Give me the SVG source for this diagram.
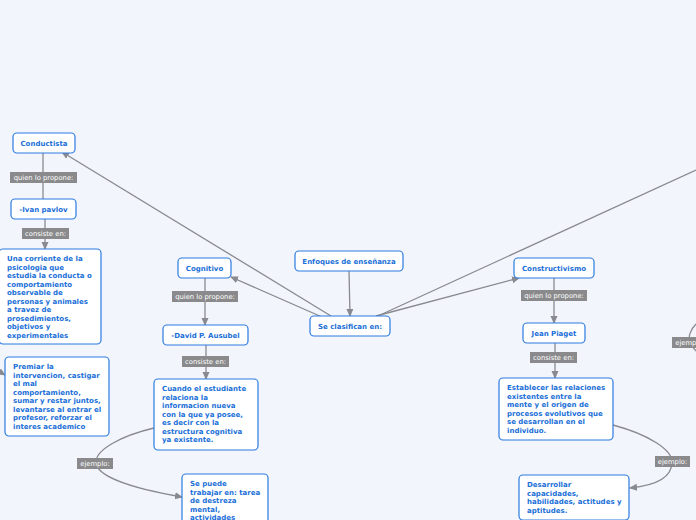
<svg xmlns="http://www.w3.org/2000/svg" width="696" height="520" viewBox="0 0 696 520">
<defs>
<marker id="ar" markerWidth="8" markerHeight="8" refX="7" refY="4" orient="auto" markerUnits="userSpaceOnUse"><path d="M0,0.5 L8,4 L0,7.5 Z" fill="#888a90"/></marker>
<style>
.n rect{fill:#fff;stroke:#2a7be0;stroke-width:1.2}
.n text{font-family:"DejaVu Sans",Verdana,sans-serif;font-weight:bold;font-size:7px;fill:#1a6fd8}
.c{text-anchor:middle}
.l rect{fill:#8a8a8c}
.l text{font-family:"DejaVu Sans",Verdana,sans-serif;font-size:6.8px;fill:#fff;text-anchor:middle}
.e path,.e line{stroke:#888a90;stroke-width:1.3;fill:none}
</style>
</defs>
<rect width="696" height="520" fill="#f3f5fd"/>
<g id="connectors" class="e">
<line x1="331" y1="316" x2="62" y2="152" marker-end="url(#ar)"/>
<line x1="322" y1="317" x2="231" y2="277" marker-end="url(#ar)"/>
<line x1="349" y1="271" x2="350" y2="316" marker-end="url(#ar)"/>
<line x1="376" y1="316" x2="519" y2="278" marker-end="url(#ar)"/>
<line x1="378" y1="316" x2="696" y2="170"/>
<line x1="43" y1="153" x2="43" y2="199"/>
<line x1="45" y1="219" x2="45" y2="249" marker-end="url(#ar)"/>
<path d="M0,372 L5,375" marker-end="url(#ar)"/>
<line x1="205" y1="278" x2="205" y2="325" marker-end="url(#ar)"/>
<line x1="206" y1="345" x2="206" y2="379" marker-end="url(#ar)"/>
<path d="M154,428 C120,436 96,450 96,462 C96,476 130,488 182,497" marker-end="url(#ar)"/>
<line x1="554" y1="278" x2="554" y2="323" marker-end="url(#ar)"/>
<line x1="555" y1="343" x2="555" y2="378" marker-end="url(#ar)"/>
<path d="M613,425 C650,435 672,450 672,462 C672,476 660,485 630,488" marker-end="url(#ar)"/>
<path d="M696,324 C690,330 688,337 690,342 C692,346 694,349 696,351"/>
</g>
<g id="lbl1" class="l"><rect x="10" y="172" width="67" height="11"/><text x="43.5" y="180">quien lo propone:</text></g>
<g id="lbl2" class="l"><rect x="22" y="228" width="47" height="11"/><text x="45.5" y="236">consiste en:</text></g>
<g id="lbl3" class="l"><rect x="172" y="291" width="66" height="11"/><text x="205" y="299">quien lo propone:</text></g>
<g id="lbl4" class="l"><rect x="182" y="356" width="47" height="11"/><text x="205.5" y="364">consiste en:</text></g>
<g id="lbl5" class="l"><rect x="77" y="458" width="36" height="11"/><text x="95" y="466">ejemplo:</text></g>
<g id="lbl6" class="l"><rect x="521" y="290" width="66" height="11"/><text x="554" y="298">quien lo propone:</text></g>
<g id="lbl7" class="l"><rect x="530" y="352" width="47" height="11"/><text x="553.5" y="360">consiste en:</text></g>
<g id="lbl8" class="l"><rect x="655" y="456" width="35" height="11"/><text x="672.5" y="464">ejemplo:</text></g>
<g id="lbl9" class="l"><rect x="672" y="337" width="36" height="11"/><text x="690" y="345">ejemplo:</text></g>
<g id="conductista" class="n"><rect x="13" y="133" width="62" height="20" rx="4"/><text class="c" x="44" y="145.5">Conductista</text></g>
<g id="pavlov" class="n"><rect x="11" y="199" width="65" height="20" rx="4"/><text class="c" x="43.5" y="211.5">-Ivan pavlov</text></g>
<g id="corriente" class="n"><rect x="-1" y="249" width="102" height="95" rx="4"/><text x="7" y="261"><tspan x="7">Una corriente de la</tspan><tspan x="7" dy="8.5">psicologia que</tspan><tspan x="7" dy="8.5">estudia la conducta o</tspan><tspan x="7" dy="8.5">comportamiento</tspan><tspan x="7" dy="8.5">observable de</tspan><tspan x="7" dy="8.5">personas y animales</tspan><tspan x="7" dy="8.5">a travez de</tspan><tspan x="7" dy="8.5">prosedimientos,</tspan><tspan x="7" dy="8.5">objetivos y</tspan><tspan x="7" dy="8.5">experimentales</tspan></text></g>
<g id="premiar" class="n"><rect x="5" y="357" width="104" height="79" rx="4"/><text x="13" y="369"><tspan x="13">Premiar la</tspan><tspan x="13" dy="8.5">intervencion, castigar</tspan><tspan x="13" dy="8.5">el mal</tspan><tspan x="13" dy="8.5">comportamiento,</tspan><tspan x="13" dy="8.5">sumar y restar juntos,</tspan><tspan x="13" dy="8.5">levantarse al entrar el</tspan><tspan x="13" dy="8.5">profesor, reforzar el</tspan><tspan x="13" dy="8.5">interes academico</tspan></text></g>
<g id="cognitivo" class="n"><rect x="178" y="258" width="53" height="20" rx="4"/><text class="c" x="204.5" y="270.5">Cognitivo</text></g>
<g id="ausubel" class="n"><rect x="163" y="325" width="85" height="20" rx="4"/><text class="c" x="205.5" y="337.5">-David P. Ausubel</text></g>
<g id="cuando" class="n"><rect x="154" y="379" width="104" height="71" rx="4"/><text x="162" y="391"><tspan x="162">Cuando el estudiante</tspan><tspan x="162" dy="8.5">relaciona la</tspan><tspan x="162" dy="8.5">informacion nueva</tspan><tspan x="162" dy="8.5">con la que ya posee,</tspan><tspan x="162" dy="8.5">es decir con la</tspan><tspan x="162" dy="8.5">estructura cognitiva</tspan><tspan x="162" dy="8.5">ya existente.</tspan></text></g>
<g id="sepuede" class="n"><rect x="182" y="474" width="86" height="60" rx="4"/><text x="190" y="486"><tspan x="190">Se puede</tspan><tspan x="190" dy="8.5">trabajar en: tarea</tspan><tspan x="190" dy="8.5">de destreza</tspan><tspan x="190" dy="8.5">mental,</tspan><tspan x="190" dy="8.5">actividades</tspan></text></g>
<g id="enfoques" class="n"><rect x="295" y="251" width="108" height="20" rx="4"/><text class="c" x="349" y="263.5">Enfoques de enseñanza</text></g>
<g id="clasifican" class="n"><rect x="310" y="316" width="80" height="20" rx="4"/><text class="c" x="350" y="328.5">Se clasifican en:</text></g>
<g id="constructivismo" class="n"><rect x="514" y="258" width="80" height="20" rx="4"/><text class="c" x="554" y="270.5">Constructivismo</text></g>
<g id="piaget" class="n"><rect x="523" y="323" width="62" height="20" rx="4"/><text class="c" x="554" y="335.5">Jean Piaget</text></g>
<g id="establecer" class="n"><rect x="499" y="378" width="114" height="62" rx="4"/><text x="507" y="390"><tspan x="507">Establecer las relaciones</tspan><tspan x="507" dy="8.5">existentes entre la</tspan><tspan x="507" dy="8.5">mente y el origen de</tspan><tspan x="507" dy="8.5">procesos evolutivos que</tspan><tspan x="507" dy="8.5">se desarrollan en el</tspan><tspan x="507" dy="8.5">individuo.</tspan></text></g>
<g id="desarrollar" class="n"><rect x="519" y="475" width="110" height="45" rx="4"/><text x="527" y="487"><tspan x="527">Desarrollar</tspan><tspan x="527" dy="8.5">capacidades,</tspan><tspan x="527" dy="8.5">habilidades, actitudes y</tspan><tspan x="527" dy="8.5">aptitudes.</tspan></text></g>
</svg>
